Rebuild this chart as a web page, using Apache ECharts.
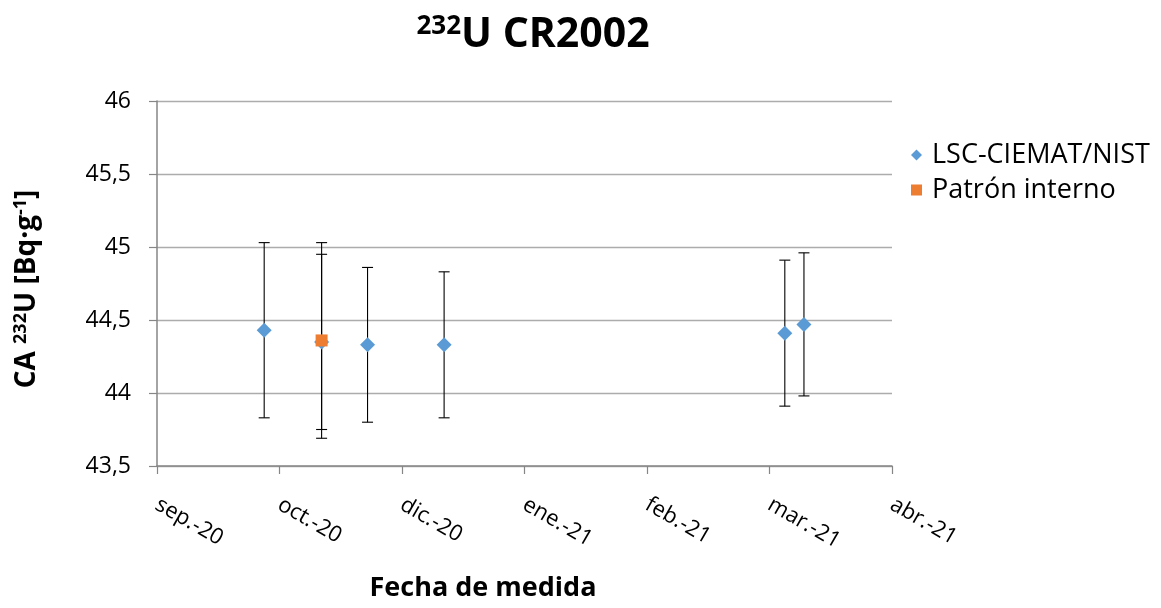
<!DOCTYPE html>
<html>
<head>
<meta charset="utf-8">
<script src="https://cdn.jsdelivr.net/npm/echarts@6/dist/echarts.min.js"></script>
<style>
html,body{margin:0;padding:0;background:#fff;}
#chart{width:1161px;height:608px;}
</style>
</head>
<body>
<div id="chart"></div>
<script>
// ---- data ----
const axisStart = '2020-09-29';          // first x tick (date)
const tickIntervalDays = 32;             // x tick spacing in days
const xTickLabels = ['sep.-20', 'oct.-20', 'dic.-20', 'ene.-21', 'feb.-21', 'mar.-21', 'abr.-21'];
const yTicks = [43.5, 44, 44.5, 45, 45.5, 46];

const lscDates  = ['2020-10-27', '2020-11-11', '2020-11-23', '2020-12-13', '2021-03-12', '2021-03-17'];
const lscValues = [44.43, 44.35, 44.33, 44.33, 44.41, 44.47];
const lscErrors = [0.60, 0.60, 0.53, 0.50, 0.50, 0.49];

const patronDates  = ['2020-11-11'];
const patronValues = [44.36];
const patronErrors = [0.67];

// ---- helpers ----
const DAY = 86400000;
function dayOffset(d) { return (Date.parse(d) - Date.parse(axisStart)) / DAY; }
const FONT = '"Open Sans", "DejaVu Sans", sans-serif';

const lscPoints = lscDates.map((d, i) => [dayOffset(d), lscValues[i]]);
const patronPoints = patronDates.map((d, i) => [dayOffset(d), patronValues[i]]);
const errData = lscDates.map((d, i) => [dayOffset(d), lscValues[i] - lscErrors[i], lscValues[i] + lscErrors[i]])
  .concat(patronDates.map((d, i) => [dayOffset(d), patronValues[i] - patronErrors[i], patronValues[i] + patronErrors[i]]));

function renderErr(params, api) {
  const x = api.value(0), lo = api.value(1), hi = api.value(2);
  const p1 = api.coord([x, lo]), p2 = api.coord([x, hi]);
  const w = 5.5;
  const st = { stroke: '#000', lineWidth: 1.1 };
  return {
    type: 'group',
    children: [
      { type: 'line', shape: { x1: p1[0], y1: p1[1], x2: p2[0], y2: p2[1] }, style: st },
      { type: 'line', shape: { x1: p1[0] - w, y1: p1[1], x2: p1[0] + w, y2: p1[1] }, style: st },
      { type: 'line', shape: { x1: p2[0] - w, y1: p2[1], x2: p2[0] + w, y2: p2[1] }, style: st }
    ]
  };
}

const chart = echarts.init(document.getElementById('chart'), null, { renderer: 'canvas' });
chart.setOption({
  animation: false,
  backgroundColor: '#ffffff',
  textStyle: { fontFamily: FONT },
  grid: { left: 157, right: 269, top: 101, bottom: 142, containLabel: false },
  xAxis: {
    type: 'value',
    min: 0,
    max: tickIntervalDays * (xTickLabels.length - 1),
    interval: tickIntervalDays,
    axisLine: { show: true, lineStyle: { color: '#868686', width: 1.5 } },
    axisTick: { show: true, inside: false, length: 8, lineStyle: { color: '#868686', width: 1.2 } },
    splitLine: { show: false },
    axisLabel: {
      rotate: -30,
      margin: 37,
      fontSize: 22,
      color: '#000',
      fontFamily: FONT,
      formatter: v => xTickLabels[Math.round(v / tickIntervalDays)] || ''
    }
  },
  yAxis: {
    type: 'value',
    min: yTicks[0],
    max: yTicks[yTicks.length - 1],
    interval: 0.5,
    axisLine: { show: true, lineStyle: { color: '#868686', width: 1.5 } },
    axisTick: { show: true, inside: false, length: 8, lineStyle: { color: '#868686', width: 1.2 } },
    splitLine: { show: true, lineStyle: { color: '#ACACAC', width: 1.3 } },
    axisLabel: {
      margin: 26,
      fontSize: 23,
      color: '#000',
      fontFamily: FONT,
      formatter: v => String(v).replace('.', ',')
    }
  },
  legend: {
    orient: 'vertical',
    left: 906,
    top: 136,
    itemWidth: 11,
    itemHeight: 11,
    itemGap: 7,
    textStyle: { fontSize: 27, lineHeight: 28, color: '#000', fontFamily: FONT, padding: [0, 0, 0, 5] },
    data: [
      { name: 'LSC-CIEMAT/NIST', icon: 'diamond' },
      { name: 'Patrón interno', icon: 'rect' }
    ]
  },
  graphic: [
    {
      type: 'text',
      x: 533, y: 35,
      style: {
        text: '{s|232}{b|U CR2002}',
        textAlign: 'center',
        textVerticalAlign: 'middle',
        rich: {
          s: { fontSize: 26, fontWeight: 'bold', fontFamily: FONT, fill: '#000', lineHeight: 48, padding: [0, 0, 16, 0] },
          b: { fontSize: 41, fontWeight: 'bold', fontFamily: FONT, fill: '#000', lineHeight: 48 }
        }
      }
    },
    {
      type: 'text',
      x: 483, y: 588,
      style: {
        text: 'Fecha de medida',
        textAlign: 'center',
        textVerticalAlign: 'middle',
        font: 'bold 27px ' + FONT,
        fill: '#000'
      }
    },
    {
      type: 'text',
      x: 27, y: 289,
      rotation: Math.PI / 2,
      style: {
        text: '{b|CA }{s|232}{b|U [Bq·g}{s|-1}{b|]}',
        textAlign: 'center',
        textVerticalAlign: 'middle',
        rich: {
          s: { fontSize: 18, fontWeight: 'bold', fontFamily: FONT, fill: '#000', lineHeight: 34, padding: [0, 0, 12, 0] },
          b: { fontSize: 28, fontWeight: 'bold', fontFamily: FONT, fill: '#000', lineHeight: 34 }
        }
      }
    }
  ],
  series: [
    {
      name: 'error',
      type: 'custom',
      renderItem: renderErr,
      encode: { x: 0, y: [1, 2] },
      data: errData,
      z: 1,
      silent: true
    },
    {
      name: 'LSC-CIEMAT/NIST',
      type: 'scatter',
      symbol: 'diamond',
      symbolSize: 15,
      itemStyle: { color: '#5B9BD5', opacity: 1 },
      data: lscPoints,
      z: 3
    },
    {
      name: 'Patrón interno',
      type: 'scatter',
      symbol: 'rect',
      symbolSize: 12,
      itemStyle: { color: '#ED7D31', opacity: 1 },
      data: patronPoints,
      z: 4
    }
  ]
});
</script>
</body>
</html>
